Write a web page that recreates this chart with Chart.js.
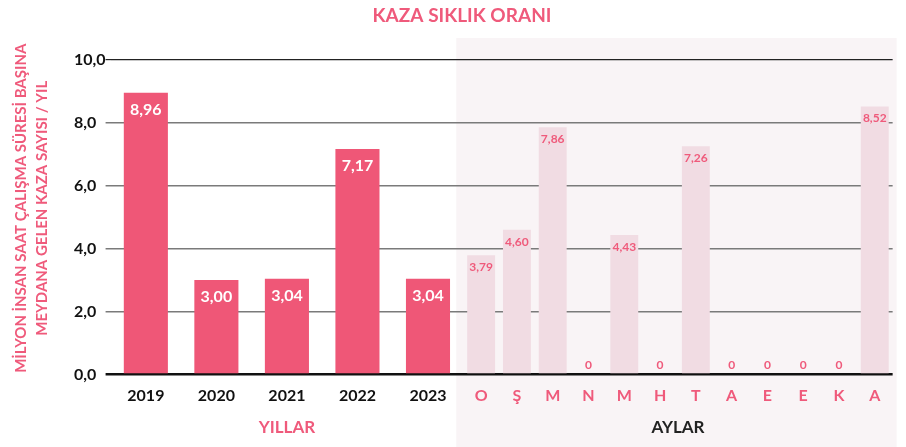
<!DOCTYPE html>
<html>
<head>
<meta charset="utf-8">
<script src="https://cdn.jsdelivr.net/npm/chart.js@4.4.1/dist/chart.umd.min.js"></script>
<style>
  html, body { margin: 0; padding: 0; background: #fff; }
  #chart { display: block; }
</style>
</head>
<body>
<canvas id="chart" width="906" height="447"></canvas>
<script>
const years = ['2019', '2020', '2021', '2022', '2023']
const yearValues = [8.96, 3.00, 3.04, 7.17, 3.04]
const months = ['O', 'Ş', 'M', 'N', 'M', 'H', 'T', 'A', 'E', 'E', 'K', 'A']
const monthValues = [3.79, 4.60, 7.86, 0, 4.43, 0, 7.26, 0, 0, 0, 0, 8.52]
const yTicks = [0, 2, 4, 6, 8, 10]
const chartTitle = 'KAZA SIKLIK ORANI'
const yTitle = ['MİLYON İNSAN SAAT ÇALIŞMA SÜRESİ BAŞINA', 'MEYDANA GELEN KAZA SAYISI / YIL']

const pink = '#ef5a7b'
const font = 'Lato'

// 8.96 -> "8,96", 0 stays "0"
const fmt = v => v === 0 ? '0' : v.toFixed(2).replace('.', ',')

// shaded panel behind the monthly bars
const panelBg = {
    id: 'panelBg',
    beforeDraw(chart) {
        const {ctx, chartArea, scales} = chart
        const left = scales.months.left - 7
        const top = chartArea.top - 22
        ctx.save()
        ctx.fillStyle = '#f9f4f6'
        ctx.fillRect(left, top, chartArea.right + 4 - left, chart.height - top)
        ctx.restore()
    }
}

const valueLabels = {
    id: 'valueLabels',
    afterDatasetsDraw(chart) {
        const ctx = chart.ctx
        ctx.save()
        ctx.textAlign = 'center'
        ctx.textBaseline = 'middle'
        chart.data.datasets.forEach((ds, i) => {
            chart.getDatasetMeta(i).data.forEach((bar, j) => {
                const v = ds.data[j]
                if (i === 0) {
                    ctx.font = 'bold 16px ' + font
                    ctx.fillStyle = '#fff'
                    ctx.fillText(fmt(v), bar.x, bar.y + 17)
                } else {
                    ctx.font = 'bold 12px ' + font
                    ctx.fillStyle = pink
                    ctx.fillText(fmt(v), bar.x, v === 0 ? bar.y - 9 : bar.y + 12)
                }
            })
        })
        ctx.restore()
    }
}

// top title and the two-line rotated title of the value axis
const titles = {
    id: 'titles',
    afterDraw(chart) {
        const ctx = chart.ctx
        const cy = (chart.chartArea.top + chart.chartArea.bottom) / 2 - 9
        ctx.save()
        ctx.fillStyle = pink
        ctx.textAlign = 'center'
        ctx.textBaseline = 'middle'
        ctx.font = 'bold 19px ' + font
        ctx.fillText(chartTitle, 462, 16)
        ctx.font = 'bold 15px ' + font
        yTitle.forEach((line, i) => {
            ctx.save()
            ctx.translate(21 + i * 21, cy)
            ctx.rotate(-Math.PI / 2)
            ctx.fillText(line, 0, 0)
            ctx.restore()
        })
        ctx.restore()
    }
}

const xTicks = (color) => ({
    color: color,
    font: {family: font, size: 16, weight: 'bold'},
    padding: 12,
    autoSkip: false,
    maxRotation: 0
})

const ctx = document.getElementById('chart').getContext('2d')
const chart = new Chart(ctx, {
    type: 'bar',
    data: {
        datasets: [{
            data: yearValues,
            xAxisID: 'years',
            yAxisID: 'y',
            backgroundColor: '#ef5777',
            grouped: false,
            barPercentage: 0.625,
            categoryPercentage: 1
        }, {
            data: monthValues,
            xAxisID: 'months',
            yAxisID: 'y',
            backgroundColor: '#f1dce3',
            grouped: false,
            barPercentage: 0.78,
            categoryPercentage: 1
        }]
    },
    options: {
        responsive: false,
        animation: false,
        devicePixelRatio: 1,
        events: [],
        layout: {padding: {left: 74, right: 10, top: 60, bottom: 0}},
        plugins: {
            legend: {display: false},
            tooltip: {enabled: false}
        },
        scales: {
            y: {
                min: 0,
                max: 10,
                afterBuildTicks: s => { s.ticks = yTicks.map(v => ({value: v})) },
                border: {display: false},
                grid: {
                    drawTicks: true,
                    tickLength: 5,
                    color: c => c.tick.value === 0 ? '#111' : c.tick.value === 10 ? '#222' : '#7a7a7a',
                    lineWidth: c => c.tick.value === 0 ? 2.5 : c.tick.value === 10 ? 1.2 : 1.5
                },
                ticks: {
                    crossAlign: 'far',
                    padding: 0,
                    color: '#111',
                    font: {family: font, size: 16, weight: 'bold'},
                    callback: v => v.toFixed(1).replace('.', ',')
                }
            },
            years: {
                type: 'category',
                axis: 'x',
                labels: years,
                position: 'bottom',
                stack: 'x',
                stackWeight: 354,
                offset: true,
                grid: {display: false, drawTicks: false},
                border: {display: false},
                ticks: xTicks('#111'),
                title: {
                    display: true,
                    text: 'YILLAR',
                    color: pink,
                    font: {family: font, size: 17, weight: 'bold'},
                    padding: {top: 0, bottom: 9}
                }
            },
            months: {
                type: 'category',
                axis: 'x',
                labels: months,
                position: 'bottom',
                stack: 'x',
                stackWeight: 431,
                offset: true,
                grid: {display: false, drawTicks: false},
                border: {display: false},
                ticks: xTicks(pink),
                title: {
                    display: true,
                    text: 'AYLAR',
                    color: '#222',
                    font: {family: font, size: 17, weight: 'bold'},
                    padding: {top: 0, bottom: 9}
                }
            }
        }
    },
    plugins: [panelBg, valueLabels, titles]
})
</script>
</body>
</html>
